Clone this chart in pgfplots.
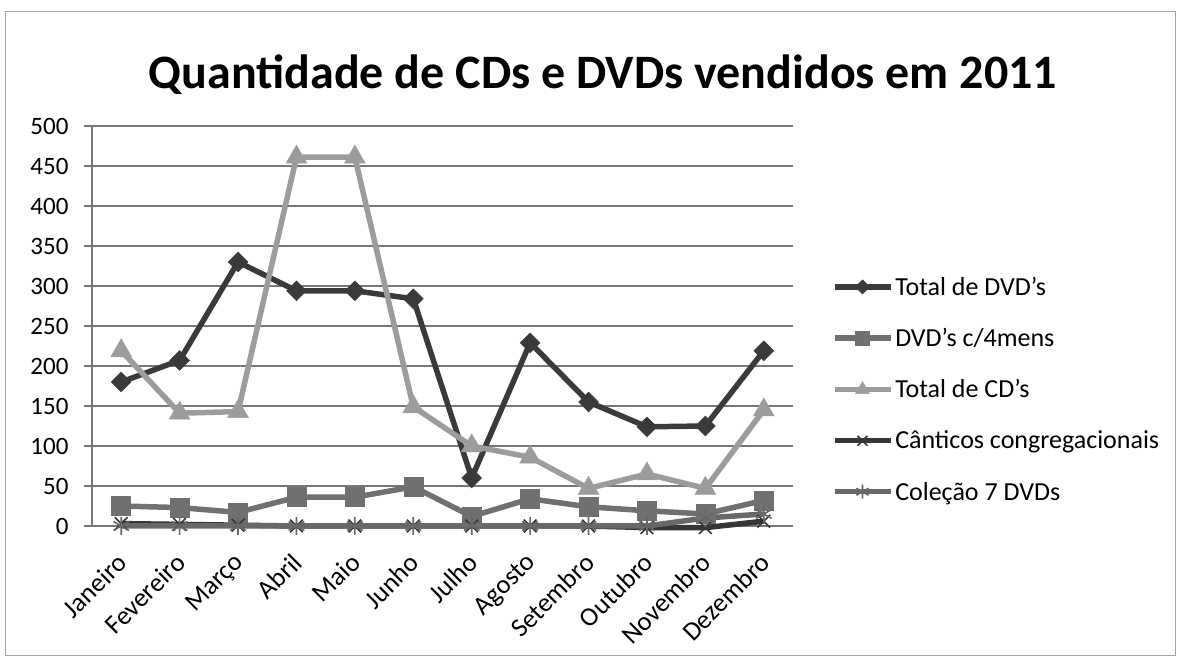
\documentclass[border=0pt]{standalone}
\usepackage{pgfplots}
\pgfplotsset{compat=1.18}
\usepackage{fontspec}
\setmainfont{Carlito}
\definecolor{cA}{HTML}{3A3A3A}
\definecolor{cB}{HTML}{707070}
\definecolor{cC}{HTML}{9C9C9C}
\definecolor{cD}{HTML}{363636}
\definecolor{cE}{HTML}{686868}
\definecolor{gridc}{HTML}{777777}
\begin{document}
\begin{tikzpicture}[x=1pt,y=1pt]
\path (-92,-142) rectangle (1090,526);
\draw[gray!70, line width=1pt] (-86,-129) rectangle (1083,514);
\begin{axis}[
  scale only axis, width=701pt, height=400pt,
  at={(0,0)}, anchor=south west,
  xmin=-0.5, xmax=11.5, ymin=0, ymax=500,
  ytick={0,50,...,500},
  xtick={0,...,11},
  xticklabels={Janeiro,Fevereiro,Março,Abril,Maio,Junho,Julho,Agosto,Setembro,Outubro,Novembro,Dezembro},
  x tick label style={rotate=45, anchor=north east, font=\fontsize{26.5}{29}\selectfont, xshift=-13pt, yshift=-5pt},
  y tick label style={font=\fontsize{25}{28}\selectfont, xshift=-12pt},
  /pgf/number format/assume math mode=true,
  axis lines=left,
  axis line style={-, gridc, line width=1.3pt},
  ymajorgrids, grid style={gridc, line width=1.3pt},
  major x tick style={draw=none},
  major y tick style={gridc, line width=1.3pt},
  tick align=outside,
  major tick length=8pt,
  extra x ticks={-0.5,0.5,...,11.5},
  extra x tick labels={},
  extra x tick style={grid=none, major tick length=9pt, tick style={gridc, line width=1.3pt}},
  legend style={at={(1.055,0.628)}, anchor=north west, draw=none, fill=none,
    font=\fontsize{26}{30}\selectfont, row sep=27.5pt, inner sep=0pt},
  legend cell align=left,
  legend image code/.code={\draw[mark repeat=2,mark phase=2] plot coordinates {(0pt,0pt) (28pt,0pt) (56pt,0pt)};},
  clip=false,
]
\addplot[cA, line width=5.5pt, mark=square*, mark size=7pt, mark options={solid, rotate=45, fill=cA, line width=0.5pt}, legend image post style={mark size=5pt}]
coordinates {(0,180) (1,207) (2,330) (3,294) (4,294) (5,284) (6,60) (7,229) (8,155) (9,124) (10,125) (11,219)};
\addlegendentry{Total de DVD's}
\addplot[cB, line width=5.5pt, mark=square*, mark size=9.5pt, mark options={solid, fill=cB, line width=0.5pt}, legend image post style={mark size=7pt}]
coordinates {(0,25) (1,23) (2,17) (3,36) (4,36) (5,49) (6,12) (7,34) (8,24) (9,19) (10,15) (11,32)};
\addlegendentry{DVD's c/4mens}
\addplot[cC, line width=5.5pt, mark=triangle*, mark size=12pt, mark options={solid, fill=cC, line width=0.5pt}, legend image post style={mark size=8pt}]
coordinates {(0,219) (1,141) (2,143) (3,461) (4,461) (5,149) (6,100) (7,86) (8,47) (9,65) (10,47) (11,145)};
\addlegendentry{Total de CD's}
\addplot[cD, line width=5.5pt, mark=x, mark size=9pt, mark options={solid, line width=1.6pt}, legend image post style={mark size=7pt}]
coordinates {(0,3) (1,2) (2,1) (3,0) (4,0) (5,0) (6,0) (7,0) (8,0) (9,-2) (10,-2) (11,6)};
\addlegendentry{Cânticos congregacionais}
\addplot[cE, line width=5.5pt, mark=asterisk, mark size=9pt, mark options={solid, line width=1.6pt}, legend image post style={mark size=7pt}]
coordinates {(0,0) (1,0) (2,0) (3,0) (4,0) (5,0) (6,0) (7,0) (8,0) (9,0) (10,10) (11,15)};
\addlegendentry{Coleção 7 DVDs}
\end{axis}
\node[font=\bfseries\fontsize{48}{56}\selectfont] at (511,451) {Quantidade de CDs e DVDs vendidos em 2011};
\end{tikzpicture}
\end{document}
